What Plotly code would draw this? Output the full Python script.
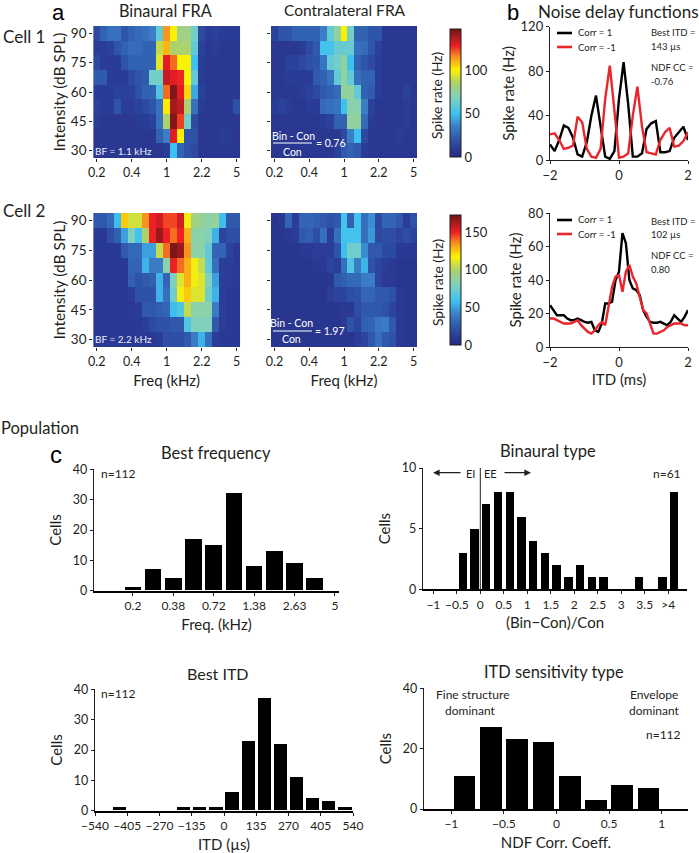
import plotly.graph_objects as go

W, H = 699, 853
FONT = "Lato"
INK = "#231f20"

# ---------- heatmap data (rows run from 90 dB down to 30 dB) ----------
intensity = [90, 82.5, 75, 67.5, 60, 52.5, 45, 37.5, 30]
freq_idx = list(range(21))
freq_ticks = [0, 5, 10, 15, 20]
freq_labels = ["0.2", "0.4", "1", "2.2", "5"]

cell1_bin = [
    [15, 25, 30, 30, 20, 25, 28, 30, 35, 60, 115, 100, 80, 80, 65, 15, 10, 12, 10, 10, 10],
    [10, 10, 12, 20, 25, 28, 28, 25, 25, 90, 110, 85, 85, 85, 60, 12, 8, 10, 8, 8, 8],
    [15, 10, 10, 10, 20, 25, 25, 25, 25, 95, 130, 120, 100, 100, 50, 10, 8, 8, 8, 8, 8],
    [22, 22, 10, 10, 10, 15, 20, 22, 65, 65, 135, 130, 128, 100, 60, 10, 8, 8, 8, 8, 8],
    [10, 10, 10, 12, 12, 12, 18, 25, 25, 55, 120, 145, 130, 105, 45, 12, 8, 8, 8, 8, 8],
    [12, 10, 10, 20, 10, 10, 12, 15, 20, 30, 102, 140, 135, 85, 30, 10, 8, 8, 8, 8, 18],
    [10, 8, 8, 8, 8, 8, 10, 10, 12, 30, 85, 145, 125, 65, 15, 8, 8, 8, 8, 8, 8],
    [8, 8, 8, 8, 8, 8, 8, 8, 8, 25, 35, 130, 100, 20, 18, 8, 8, 8, 10, 10, 8],
    [8, 8, 8, 8, 8, 8, 8, 8, 8, 8, 10, 50, 25, 18, 15, 8, 8, 8, 8, 8, 8],
]
cell1_con = [
    [12, 20, 20, 25, 25, 25, 25, 35, 60, 75, 100, 65, 25, 25, 20, 20, 8, 8, 8, 8, 8],
    [8, 8, 8, 8, 10, 15, 22, 52, 52, 62, 62, 62, 30, 28, 20, 12, 8, 8, 8, 8, 8],
    [8, 8, 12, 12, 15, 18, 20, 32, 60, 65, 75, 50, 25, 20, 15, 10, 8, 8, 8, 8, 8],
    [8, 8, 10, 10, 10, 10, 22, 25, 32, 60, 75, 60, 30, 25, 25, 10, 8, 8, 8, 8, 8],
    [8, 8, 8, 8, 10, 12, 15, 22, 25, 28, 75, 75, 60, 25, 22, 10, 8, 8, 8, 12, 8],
    [10, 12, 10, 8, 8, 10, 10, 28, 30, 32, 50, 72, 72, 35, 12, 8, 8, 8, 8, 10, 8],
    [8, 8, 8, 8, 8, 8, 8, 10, 12, 25, 25, 75, 75, 28, 10, 8, 8, 8, 8, 10, 8],
    [8, 8, 8, 8, 8, 8, 8, 8, 8, 8, 15, 35, 50, 15, 8, 8, 8, 8, 10, 8, 8],
    [8, 8, 8, 8, 8, 8, 8, 8, 8, 12, 22, 25, 22, 10, 8, 8, 8, 8, 8, 8, 8],
]
cell2_bin = [
    [25, 25, 32, 58, 125, 108, 108, 135, 150, 155, 145, 145, 155, 115, 95, 90, 85, 90, 58, 25, 25],
    [10, 10, 20, 28, 50, 80, 60, 100, 150, 165, 150, 140, 150, 130, 85, 85, 80, 55, 15, 20, 20],
    [10, 10, 10, 10, 25, 32, 32, 50, 50, 105, 140, 170, 165, 135, 85, 85, 70, 30, 30, 15, 10],
    [10, 10, 10, 10, 10, 30, 30, 55, 40, 40, 85, 150, 140, 130, 115, 105, 70, 35, 12, 12, 10],
    [10, 10, 10, 10, 10, 28, 22, 25, 28, 55, 30, 80, 110, 130, 115, 110, 80, 50, 12, 12, 10],
    [10, 10, 10, 10, 10, 12, 22, 22, 22, 55, 35, 75, 115, 125, 110, 110, 75, 55, 12, 10, 10],
    [10, 10, 10, 10, 10, 10, 12, 25, 25, 28, 30, 58, 65, 105, 85, 85, 85, 40, 12, 10, 10],
    [10, 10, 10, 10, 10, 10, 10, 12, 18, 22, 22, 25, 25, 65, 80, 80, 80, 25, 12, 10, 10],
    [10, 10, 10, 10, 10, 10, 10, 10, 10, 12, 20, 20, 20, 25, 40, 55, 35, 12, 10, 10, 10],
]
cell2_con = [
    [8, 10, 30, 12, 30, 30, 28, 25, 22, 25, 60, 28, 60, 35, 45, 18, 30, 30, 25, 12, 22],
    [8, 8, 10, 12, 25, 28, 20, 35, 12, 35, 60, 60, 60, 35, 48, 18, 20, 20, 15, 20, 15],
    [8, 8, 8, 8, 10, 10, 12, 12, 12, 22, 58, 75, 75, 45, 25, 25, 18, 18, 10, 10, 10],
    [8, 8, 8, 8, 8, 8, 10, 10, 15, 12, 35, 65, 40, 55, 22, 15, 12, 10, 8, 8, 8],
    [8, 8, 8, 8, 8, 8, 8, 8, 10, 25, 28, 32, 32, 40, 40, 15, 10, 10, 8, 8, 8],
    [8, 8, 8, 8, 8, 8, 8, 8, 12, 15, 15, 20, 22, 30, 30, 25, 25, 22, 10, 8, 8],
    [8, 8, 8, 8, 8, 8, 8, 8, 8, 8, 10, 10, 20, 25, 25, 25, 22, 15, 10, 8, 8],
    [8, 8, 8, 8, 8, 8, 8, 8, 8, 8, 10, 22, 15, 28, 30, 38, 40, 25, 10, 8, 8],
    [8, 8, 8, 8, 8, 8, 8, 8, 8, 8, 8, 8, 12, 15, 25, 35, 25, 22, 10, 8, 8],
]

# ---------- noise delay function data ----------
itd_a = [-2, -1.867, -1.733, -1.6, -1.467, -1.333, -1.2, -1.067, -0.933, -0.8, -0.667, -0.533,
         -0.4, -0.267, -0.133, 0, 0.133, 0.267, 0.4, 0.533, 0.667, 0.8, 0.933, 1.067, 1.2,
         1.333, 1.467, 1.6, 1.733, 1.867, 2]
a_pos = [14, 8, 18, 31, 29, 20, 5, 3, 16, 40, 58, 30, 3, 1, 8, 55, 88, 50, 3, 3, 6, 28, 33, 35, 7, 7, 8, 20, 25, 30, 18]
a_neg = [23, 24, 18, 10, 11, 13, 39, 34, 10, 3, 2, 10, 55, 85, 45, 2, 3, 6, 40, 66, 30, 7, 6, 5, 18, 25, 29, 12, 13, 17, 25]

itd_b = [-2, -1.9, -1.8, -1.7, -1.6, -1.5, -1.4, -1.3, -1.2, -1.1, -1, -0.9, -0.8, -0.7, -0.6, -0.5, -0.4,
         -0.3, -0.2, -0.1, 0, 0.1, 0.2, 0.3, 0.4, 0.5, 0.6, 0.7, 0.8, 0.9, 1, 1.1, 1.2, 1.3, 1.4, 1.5, 1.6,
         1.7, 1.8, 1.9, 2]
b_pos = [25, 22, 19, 19, 19, 17, 16, 16, 17, 16, 15, 14.5, 15, 10, 9, 14, 26, 26, 27, 40, 45, 68, 62, 40, 35,
         34, 31, 22, 18, 15, 14.5, 14.5, 15, 14, 13, 15, 19, 17, 15, 18, 22]
b_neg = [17, 17, 16, 15, 14, 14, 14, 15, 16, 13, 11, 9, 8, 10, 13, 15, 13, 25, 36, 42, 43, 33, 45, 49, 42,
         38, 30, 22, 20, 14, 8, 8, 9, 10, 12, 13, 14, 14, 14, 13, 13]

# ---------- population histograms ----------
bf_x = list(range(12))
bf_counts = [0, 1, 7, 4, 17, 15, 32, 8, 13, 9, 4, 0]
bf_ticks = [1, 3, 5, 7, 9, 11]
bf_labels = ["0.2", "0.38", "0.72", "1.38", "2.63", "5"]

bt_x = [-1.125, -0.875, -0.625, -0.375, -0.125, 0.125, 0.375, 0.625, 0.875, 1.125, 1.375, 1.625,
        1.875, 2.125, 2.375, 2.625, 2.875, 3.125, 3.375, 3.625, 3.875, 4.125]
bt_counts = [0, 0, 0, 3, 5, 7, 8, 8, 6, 4, 3, 2, 1, 2, 1, 1, 0, 0, 1, 0, 1, 8]
bt_ticks = [-1, -0.5, 0, 0.5, 1, 1.5, 2, 2.5, 3, 3.5, 4]
bt_labels = ["\u22121", "\u22120.5", "0", "0.5", "1", "1.5", "2", "2.5", "3", "3.5", ">4"]

itd_x = [-506.25, -438.75, -371.25, -303.75, -236.25, -168.75, -101.25, -33.75, 33.75, 101.25, 168.75,
         236.25, 303.75, 371.25, 438.75, 506.25]
itd_counts = [0, 1, 0, 0, 0, 1, 1, 1, 6, 23, 37, 22, 11, 4, 3, 1]
itd_ticks = [-540, -405, -270, -135, 0, 135, 270, 405, 540]
itd_labels = ["\u2212540", "\u2212405", "\u2212270", "\u2212135", "0", "135", "270", "405", "540"]

ndf_x = [-0.875, -0.625, -0.375, -0.125, 0.125, 0.375, 0.625, 0.875]
ndf_counts = [11, 27, 23, 22, 11, 3, 8, 7]
ndf_ticks = [-1, -0.5, 0, 0.5, 1]
ndf_labels = ["\u22121", "\u22120.5", "0", "0.5", "1"]

JET = [
    [0.00, "#262a82"], [0.06, "#2a3a94"], [0.14, "#2f57ab"], [0.24, "#3b7fc8"],
    [0.34, "#3dc2f0"], [0.46, "#7fd0c0"], [0.58, "#aed26a"], [0.68, "#fff200"],
    [0.78, "#f7941e"], [0.87, "#ed1c24"], [0.94, "#a51c20"], [1.00, "#6e1414"],
]


def xd(l, r):
    return [l / W, r / W]


def yd(t, b):
    return [1 - b / H, 1 - t / H]


def px(x):
    return x / W


def py(y):
    return 1 - y / H


fig = go.Figure()
layout = {}
annotations = []
shapes = []


def text(x, y, s, size=12, color=INK, anchor="center", family=FONT, angle=0):
    annotations.append(dict(x=px(x), y=py(y), xref="paper", yref="paper", text=s, showarrow=False,
                            xanchor=anchor, yanchor="middle", textangle=angle, borderpad=0,
                            font=dict(family=family, size=size, color=color)))


def hline(x0, x1, y, color, width):
    shapes.append(dict(type="line", xref="paper", yref="paper", x0=px(x0), x1=px(x1), y0=py(y), y1=py(y),
                       line=dict(color=color, width=width)))


def hm_axes(i, l, r, t, b, show_y, xtitle=None, ytitle=None):
    layout[f"xaxis{i}"] = dict(domain=xd(l, r), range=[-0.5, 20.5], anchor=f"y{i}", tickmode="array",
                               tickvals=freq_ticks, ticktext=freq_labels, ticks="outside", ticklen=3,
                               tickcolor=INK, showgrid=False, zeroline=False, showline=False,
                               tickfont=dict(family=FONT, size=12.5, color=INK),
                               title=dict(text=xtitle, standoff=7, font=dict(family=FONT, size=15, color=INK)))
    layout[f"yaxis{i}"] = dict(domain=yd(t, b), range=[26.25, 93.75], anchor=f"x{i}", tickmode="array",
                               tickvals=[30, 45, 60, 75, 90], ticks="outside", ticklen=3, tickcolor=INK,
                               showticklabels=show_y, showgrid=False, zeroline=False, showline=False,
                               tickfont=dict(family=FONT, size=13.5, color=INK),
                               title=dict(text=ytitle, standoff=1, font=dict(family=FONT, size=15.5, color=INK)))


def add_hm(i, z, cax):
    fig.add_trace(go.Heatmap(x=freq_idx, y=intensity, z=z, coloraxis=cax, xaxis=f"x{i}", yaxis=f"y{i}",
                             zsmooth=False))


hm_axes(1, 93.2, 240.2, 26, 158, True, None, "Intensity (dB SPL)")
hm_axes(2, 271, 417, 26, 158, False)
hm_axes(3, 93.2, 240.2, 213, 347, True, "Freq (kHz)", "Intensity (dB SPL)")
hm_axes(4, 271, 417, 213, 347, False, "Freq (kHz)")
add_hm(1, cell1_bin, "coloraxis")
add_hm(2, cell1_con, "coloraxis")
add_hm(3, cell2_bin, "coloraxis2")
add_hm(4, cell2_con, "coloraxis2")


def cax(zmax, ticks, top, bottom):
    return dict(cmin=0, cmax=zmax, colorscale=JET,
                colorbar=dict(x=px(450), xanchor="left", xpad=0, ypad=0, y=py(bottom), yanchor="bottom",
                              lenmode="fraction", len=(bottom - top) / H, thicknessmode="pixels", thickness=11,
                              outlinecolor=INK, outlinewidth=1, ticks="", tickmode="array", tickvals=ticks,
                              tickfont=dict(family=FONT, size=13, color=INK)))


layout["coloraxis"] = cax(148, [0, 50, 100], 29, 157)
layout["coloraxis2"] = cax(173, [0, 50, 100, 150], 215, 345)


def line_axes(i, t, b, ymax, yticks, xtitle=None):
    layout[f"xaxis{i}"] = dict(domain=xd(550, 688), range=[-2, 2], anchor=f"y{i}", tickmode="array",
                               tickvals=[-2, 0, 2], ticktext=["\u22122", "0", "2"], ticks="outside", ticklen=3,
                               tickcolor=INK, showgrid=False, zeroline=False, showline=True, linecolor=INK,
                               linewidth=1.4, tickfont=dict(family=FONT, size=13, color=INK),
                               title=dict(text=xtitle, standoff=4, font=dict(family=FONT, size=15, color=INK)))
    layout[f"yaxis{i}"] = dict(domain=yd(t, b), range=[0, ymax], anchor=f"x{i}", tickmode="array",
                               tickvals=yticks, ticks="outside", ticklen=3, tickcolor=INK, showgrid=False,
                               zeroline=False, showline=True, linecolor=INK, linewidth=1.4,
                               tickfont=dict(family=FONT, size=13, color=INK),
                               title=dict(text="Spike rate (Hz)", standoff=2,
                                          font=dict(family=FONT, size=15, color=INK)))


line_axes(5, 26.7, 160, 120, [0, 40, 80, 120])
line_axes(6, 213, 347, 80, [0, 20, 40, 60, 80], "ITD (ms)")
for i, x, pos, neg in [(5, itd_a, a_pos, a_neg), (6, itd_b, b_pos, b_neg)]:
    fig.add_trace(go.Scatter(x=x, y=pos, mode="lines", name="Corr = 1", line=dict(color="#000000", width=2.4),
                             xaxis=f"x{i}", yaxis=f"y{i}", showlegend=False))
    fig.add_trace(go.Scatter(x=x, y=neg, mode="lines", name="Corr = -1", line=dict(color="#e8262c", width=2.4),
                             xaxis=f"x{i}", yaxis=f"y{i}", showlegend=False))


def hist(i, l, r, t, b, xr, ymax, yticks, tickvals, ticktext, x, y, width, xtitle):
    layout[f"xaxis{i}"] = dict(domain=xd(l, r), range=xr, anchor=f"y{i}", tickmode="array", tickvals=tickvals,
                               ticktext=ticktext, ticks="outside", ticklen=3, tickcolor=INK, showgrid=False,
                               zeroline=False, showline=True, linecolor="#000000", linewidth=2,
                               tickfont=dict(family=FONT, size=12, color=INK),
                               title=dict(text=xtitle, standoff=7, font=dict(family=FONT, size=15, color=INK)))
    layout[f"yaxis{i}"] = dict(domain=yd(t, b), range=[0, ymax], anchor=f"x{i}", tickmode="array", tickvals=yticks,
                               ticks="outside", ticklen=3, tickcolor=INK, showgrid=False, zeroline=False,
                               showline=True, linecolor=INK, linewidth=1.4,
                               tickfont=dict(family=FONT, size=12.5, color=INK),
                               title=dict(text="Cells", standoff=7, font=dict(family=FONT, size=15, color=INK)))
    fig.add_trace(go.Bar(x=x, y=y, width=width, marker=dict(color="#000000", line=dict(width=0)),
                         xaxis=f"x{i}", yaxis=f"y{i}", showlegend=False))


hist(7, 94, 339, 469.3, 590.7, [-0.93, 11.2], 40, [0, 10, 20, 30, 40], bf_ticks, bf_labels, bf_x, bf_counts, 0.82,
     "Freq. (kHz)")
hist(8, 423, 687, 468, 589.3, [-1.22, 4.4], 10, [0, 5, 10], bt_ticks, bt_labels, bt_x, bt_counts, 0.177,
     "(Bin\u2212Con)/Con")
hist(9, 95, 353, 689.3, 810.7, [-540, 540], 40, [0, 10, 20, 30, 40], itd_ticks, itd_labels, itd_x, itd_counts, 55.8,
     "ITD (\u00b5s)")
hist(10, 424, 688, 688.3, 809, [-1.26, 1.25], 40, [0, 20, 40], ndf_ticks, ndf_labels, ndf_x, ndf_counts, 0.206,
     "NDF Corr. Coeff.")

# EI / EE divider
shapes.append(dict(type="line", xref="x8", yref="y8", x0=0, x1=0, y0=0, y1=10, line=dict(color=INK, width=1)))
for head, tail in [(433, 462), (531, 503)]:
    annotations.append(dict(x=px(head), y=py(472.7), xref="paper", yref="paper", ax=tail - head, ay=0,
                            axref="pixel", ayref="pixel", text="", showarrow=True, arrowhead=2, arrowsize=1.1,
                            arrowwidth=1.2, arrowcolor=INK))

# panel text
text(58, 12, "a", 22, "#000000", family="Liberation Sans")
text(513, 12, "b", 22, "#000000", family="Liberation Sans")
text(56, 454, "c", 24, "#000000", family="Liberation Sans")
text(2, 36, "Cell 1", 17, anchor="left")
text(2, 211, "Cell 2", 17, anchor="left")
text(0, 428, "Population", 16.5, anchor="left")
text(165, 10, "Binaural FRA", 16.3)
text(345, 10, "Contralateral FRA", 15.5)
text(618, 11, "Noise delay functions", 17)
text(216, 453, "Best frequency", 16.5)
text(548, 451, "Binaural type", 16.5)
text(218, 673, "Best ITD", 16)
text(554, 671, "ITD sensitivity type", 16.4)
text(437, 95, "Spike rate (Hz)", 13.8, angle=-90)
text(437, 282, "Spike rate (Hz)", 13.8, angle=-90)

text(123, 151, "BF = 1.1 kHz", 10, "#e8eefc")
text(123, 339, "BF = 2.2 kHz", 10, "#e8eefc")
text(293, 136, "Bin - Con", 10.5, "#ffffff")
hline(273, 312, 143, "#ffffff", 1)
text(292, 152, "Con", 10.5, "#ffffff")
text(315, 143, "= 0.76", 10.5, "#ffffff", anchor="left")
text(291, 323, "Bin - Con", 10.5, "#ffffff")
hline(273, 312, 331, "#ffffff", 1)
text(291, 339, "Con", 10.5, "#ffffff")
text(314, 331, "= 1.97", 10.5, "#ffffff", anchor="left")

# legends of the delay functions
for y0 in (33, 221 - 1):
    hline(557, 572, y0, "#000000", 2.6)
    hline(557, 572, y0 + 14, "#e8262c", 2.6)
    text(577, y0, "Corr = 1", 9.5, anchor="left")
    text(577, y0 + 14, "Corr = -1", 9.5, anchor="left")

for y0, a, b in [(33, "143 \u00b5s", "-0.76"), (221, "102 \u00b5s", "0.80")]:
    text(650, y0, "Best ITD =", 9.5, anchor="left")
    text(650, y0 + 13, a, 9.5, anchor="left")
    text(650, y0 + 35, "NDF CC =", 9.5, anchor="left")
    text(650, y0 + 48, b, 9.5, anchor="left")

text(119, 473, "n=112", 12)
text(667, 473, "n=61", 12)
text(119, 693, "n=112", 12)
text(663, 734, "n=112", 12)
text(472, 694, "Fine structure", 12)
text(470, 710, "dominant", 12)
text(654, 694, "Envelope", 12)
text(654, 710, "dominant", 12)
text(332 / 3 + 360, 473, "EI", 11)
text(393 / 3 + 360, 473, "EE", 11)

fig.update_layout(width=W, height=H, autosize=False,
                  margin=dict(l=0, r=0, t=0, b=0, pad=0, autoexpand=False), paper_bgcolor="white",
                  plot_bgcolor="white", showlegend=False, bargap=0, annotations=annotations, shapes=shapes,
                  font=dict(family=FONT, color=INK), **layout)
fig.write_html("out.html", config={"displayModeBar": False},
               post_script="document.body.style.margin='0';document.documentElement.style.overflow='hidden';")
